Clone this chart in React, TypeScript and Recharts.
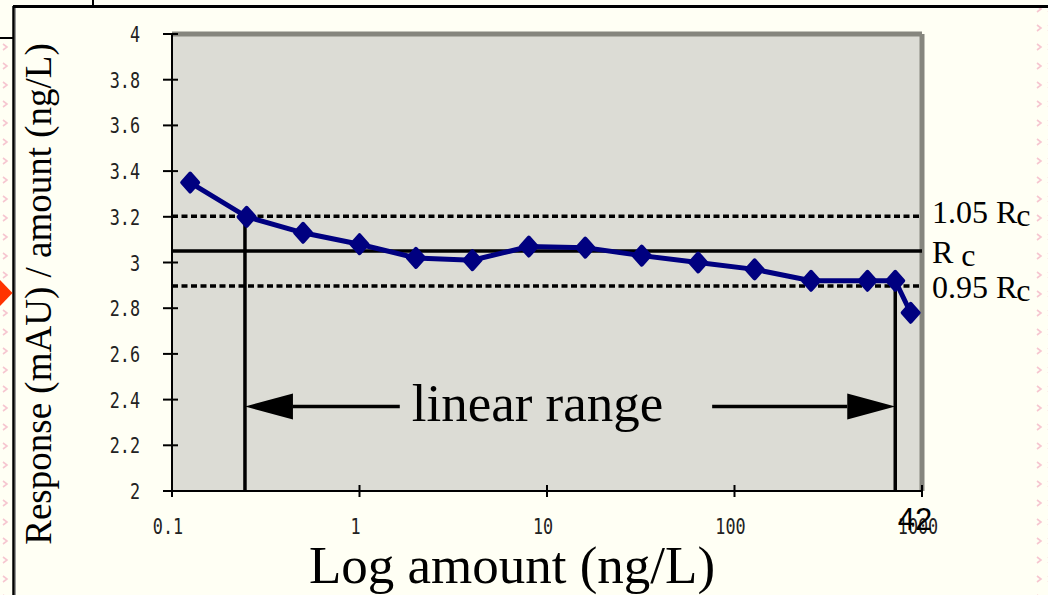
import React from "react";
import {
  LineChart,
  Line,
  XAxis,
  YAxis,
  ReferenceLine,
  ReferenceArea,
  ReferenceDot,
} from "recharts";

// amount (ng/L) and response/amount
const amounts = [0.125, 0.25, 0.5, 1, 2, 4, 8, 16, 32, 64, 128, 256, 512, 720, 870];
const ratios = [3.35, 3.2, 3.13, 3.08, 3.02, 3.01, 3.07, 3.065, 3.03, 3.0, 2.97, 2.92, 2.92, 2.92, 2.78];

const xTicks = [0.1, 1, 10, 100, 1000];
const yTicks = [2, 2.2, 2.4, 2.6, 2.8, 3, 3.2, 3.4, 3.6, 3.8, 4];

const RC = 3.05;
const rcFactors = [1.05, 1, 0.95];
const rcLabels = ["1.05 R", "R", "0.95 R"];

// linear range limits and the arrow annotation
const rangeLow = 0.245;
const rangeLowY = 3.2;
const rangeHigh = 720;
const rangeHighY = 2.92;
const arrowY = 2.37;
const arrowLeftTail = 1.64;
const arrowRightTail = 76;
const rangeLabelAt = 8.9;

const data = amounts.map((a, i) => ({ amount: a, ratio: ratios[i] }));

const SERIF = "'Liberation Serif', 'DejaVu Serif', serif";
const TICKFONT = "'DejaVu Sans Mono', 'Liberation Mono', monospace";
const NAVY = "#000080";

function YTick(props: any) {
  const { x, y, payload } = props;
  const lbl = String(payload.value);
  return (
    <g>
      <line x1={x - 9} x2={x + 6} y1={y} y2={y} stroke="#000" strokeWidth={2} />
      <g transform={`translate(${x - 32},${y}) scale(0.8,1)`}>
        <text x={0} y={8} textAnchor="end" fontFamily={TICKFONT} fontSize={21} fill="#222">
          {lbl}
        </text>
      </g>
    </g>
  );
}

function XTick(props: any) {
  const { x, y, payload } = props;
  return (
    <g>
      <line x1={x} x2={x} y1={y - 6} y2={y + 6} stroke="#000" strokeWidth={2} />
      <g transform={`translate(${x - 4},${y + 43}) scale(0.8,1)`}>
        <text x={0} y={0} textAnchor="middle" fontFamily={TICKFONT} fontSize={21} fill="#222">
          {String(payload.value)}
        </text>
      </g>
    </g>
  );
}

function Diamond(props: any) {
  const { cx, cy, index } = props;
  if (cx == null || cy == null) return null;
  return (
    <polygon
      key={`d-${index}`}
      points={`${cx},${cy - 9} ${cx + 8},${cy} ${cx},${cy + 9} ${cx - 8},${cy}`}
      fill={NAVY}
      stroke={NAVY}
      strokeWidth={4}
      strokeLinejoin="round"
    />
  );
}

// line with a filled head at (x1, y1)
function Arrow(props: any) {
  const { x1, y1, x2, y2 } = props;
  const dir = x2 > x1 ? 1 : -1;
  const base = x1 + dir * 48;
  return (
    <g>
      <line x1={base} y1={y1} x2={x2} y2={y2} stroke="#000" strokeWidth={3.5} />
      <polygon points={`${x1},${y1} ${base},${y1 - 13} ${base},${y1 + 13}`} fill="#000" />
    </g>
  );
}

function RcLabel(text: string) {
  return (props: any) => {
    const { viewBox } = props;
    const x = viewBox.x + viewBox.width + 10;
    const dy = text === "1.05 R" ? 7 : 12;
    return (
      <text x={x} y={viewBox.y + dy} fontFamily={SERIF} fontSize={32} fill="#000">
        {text}
        <tspan dx={text === "R" ? 8 : -1} dy={3}>c</tspan>
      </text>
    );
  };
}

export default function App() {
  return (
    <div
      style={{
        position: "absolute",
        left: 0,
        top: 0,
        width: 1048,
        height: 595,
        background: "#FFFFF4",
        overflow: "hidden",
      }}
    >
      <svg width={1048} height={595} style={{ position: "absolute", left: 0, top: 0 }}>
        <defs>
          <pattern id="chev" width={11} height={19} patternUnits="userSpaceOnUse">
            <path d="M3 6 L7 9 L3 12" stroke="#F6C6D0" strokeWidth={1.6} fill="none" />
          </pattern>
        </defs>
        <rect x={0} y={0} width={1048} height={595} fill="url(#chev)" />
        <rect x={0} y={0} width={90} height={38} fill="#FFFFF4" />
        <rect x={14} y={7} width={1021} height={595} fill="#FFFFF4" />
        <line x1={0} x2={14} y1={38} y2={38} stroke="#000" strokeWidth={2} />
        <line x1={93} x2={93} y1={0} y2={7} stroke="#000" strokeWidth={2} />
        <line x1={13} x2={1048} y1={6.5} y2={6.5} stroke="#000" strokeWidth={3} />
        <line x1={13.5} x2={13.5} y1={6} y2={595} stroke="#000" strokeWidth={2.5} />
        <line x1={15.5} x2={15.5} y1={8} y2={595} stroke="#999" strokeWidth={1} />
      </svg>

      <div style={{ position: "absolute", left: 0, top: 0 }}>
        <LineChart
          width={1048}
          height={595}
          data={data}
          margin={{ top: 34, right: 126, bottom: 64, left: 112 }}
        >
          <ReferenceArea x1={0.1} x2={1000} y1={2} y2={4} fill="#DCDCD5" fillOpacity={1} stroke="none" />
          <XAxis
            dataKey="amount"
            type="number"
            scale="log"
            domain={[0.1, 1000]}
            ticks={xTicks}
            allowDataOverflow
            height={40}
            tickSize={0}
            tickMargin={0}
            tickLine={false}
            axisLine={{ stroke: "#000", strokeWidth: 2 }}
            tick={<XTick />}
            interval={0}
            label={{
              content: (p: any) => (
                <text
                  x={p.viewBox.x + p.viewBox.width / 2 - 35}
                  y={583}
                  textAnchor="middle"
                  fontFamily={SERIF}
                  fontSize={53}
                  fill="#000"
                >
                  Log amount (ng/L)
                </text>
              ),
            }}
          />
          <YAxis
            type="number"
            domain={[2, 4]}
            ticks={yTicks}
            width={60}
            tickSize={0}
            tickMargin={0}
            tickLine={false}
            axisLine={{ stroke: "#000", strokeWidth: 2 }}
            tick={<YTick />}
            interval={0}
            label={{
              content: () => (
                <text
                  x={38}
                  y={294}
                  transform="rotate(-90 38 294)"
                  textAnchor="middle"
                  dominantBaseline="central"
                  fontFamily={SERIF}
                  fontSize={37}
                  fill="#000"
                >
                  Response (mAU) / amount (ng/L)
                </text>
              ),
            }}
          />
          <ReferenceLine y={4} stroke="#86867E" strokeWidth={5} />
          <ReferenceLine x={1000} stroke="#86867E" strokeWidth={5} />
          {rcFactors.map((f, i) => (
            <ReferenceLine
              key={`rc-${i}`}
              y={RC * f}
              stroke="#000"
              strokeWidth={f === 1 ? 3.5 : 3.5}
              strokeDasharray={f === 1 ? undefined : "6 3.5"}
              label={{ content: RcLabel(rcLabels[i]) }}
            />
          ))}
          <ReferenceLine
            segment={[
              { x: rangeLow, y: 2 },
              { x: rangeLow, y: rangeLowY },
            ]}
            stroke="#000"
            strokeWidth={3.5}
          />
          <ReferenceLine
            segment={[
              { x: rangeHigh, y: 2 },
              { x: rangeHigh, y: rangeHighY },
            ]}
            stroke="#000"
            strokeWidth={3.5}
          />
          <ReferenceLine
            segment={[
              { x: rangeLow, y: arrowY },
              { x: arrowLeftTail, y: arrowY },
            ]}
            shape={(p: any) => <Arrow {...p} />}
          />
          <ReferenceLine
            segment={[
              { x: rangeHigh, y: arrowY },
              { x: arrowRightTail, y: arrowY },
            ]}
            shape={(p: any) => <Arrow {...p} />}
          />
          <ReferenceDot
            x={rangeLabelAt}
            y={arrowY}
            r={0}
            shape={(p: any) => (
              <text
                x={p.cx}
                y={p.cy + 15}
                textAnchor="middle"
                fontFamily={SERIF}
                fontSize={53}
                fill="#000"
              >
                linear range
              </text>
            )}
          />
          <Line
            type="linear"
            dataKey="ratio"
            stroke={NAVY}
            strokeWidth={5}
            dot={(p: any) => <Diamond {...p} />}
            isAnimationActive={false}
          />
        </LineChart>
      </div>

      <svg
        width={1048}
        height={595}
        style={{ position: "absolute", left: 0, top: 0, pointerEvents: "none" }}
      >
        <polygon points="0,280 12.5,293 0,306" fill="#FF3300" />
        <text x={915} y={530} textAnchor="middle" fontFamily="'Liberation Sans', Arial, sans-serif" fontSize={31} fill="#000">
          42
        </text>
      </svg>
    </div>
  );
}
